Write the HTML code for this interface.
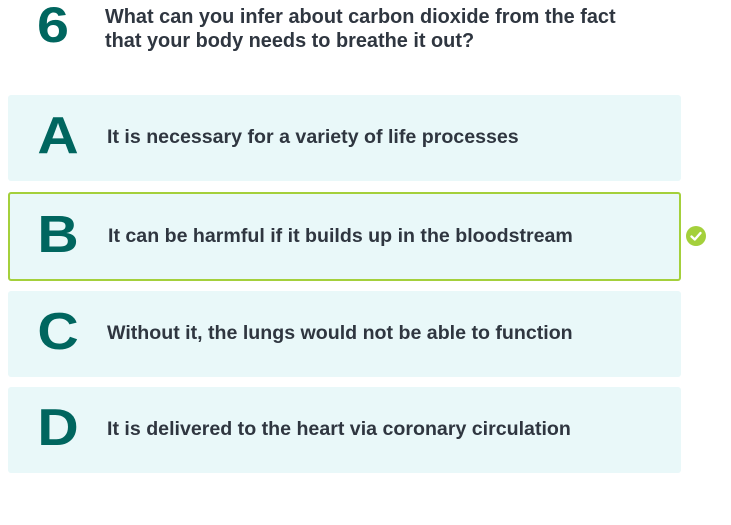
<!DOCTYPE html>
<html><head><style>
body{margin:0;width:731px;height:525px;background:#fff;font-family:"Liberation Sans",sans-serif;position:relative;overflow:hidden}
.n{position:absolute;left:37px;top:-4px;font-size:50px;font-weight:bold;color:#00665f;transform:scaleX(1.15);transform-origin:left}
.q{position:absolute;left:105px;top:5px;font-size:19.9px;font-weight:bold;color:#2f3640;line-height:24px}
.box{position:absolute;left:8px;width:673px;height:86px;background:#e9f8f9;border-radius:3px}
.box .l{position:absolute;left:28px;top:11px;width:44px;text-align:center;font-size:52px;font-weight:bold;color:#00665f;transform:scaleX(1.1)}
.box .t{position:absolute;left:99px;top:31px;font-size:19.6px;font-weight:bold;color:#2f3640}
.sel{border:2px solid #a4d03b;box-sizing:border-box;height:89px}
.sel .l{left:26px}.sel .t{left:98px;top:31px}
.chk{position:absolute;left:686px;top:226px;width:20px;height:20px;border-radius:50%;background:#a4d03b}
</style></head><body>
<div class="n">6</div>
<div class="q">What can you infer about carbon dioxide from the fact<br>that your body needs to breathe it out?</div>
<div class="box" style="top:95px"><div class="l">A</div><div class="t">It is necessary for a variety of life processes</div></div>
<div class="box sel" style="top:192px"><div class="l">B</div><div class="t">It can be harmful if it builds up in the bloodstream</div></div>
<div class="chk"><svg width="20" height="20"><path d="M5.5 10.5 L8.8 13.5 L14.5 7" stroke="#fff" stroke-width="2.4" fill="none" stroke-linecap="round" stroke-linejoin="round"/></svg></div>
<div class="box" style="top:291px"><div class="l">C</div><div class="t">Without it, the lungs would not be able to function</div></div>
<div class="box" style="top:387px"><div class="l">D</div><div class="t">It is delivered to the heart via coronary circulation</div></div>
</body></html>
